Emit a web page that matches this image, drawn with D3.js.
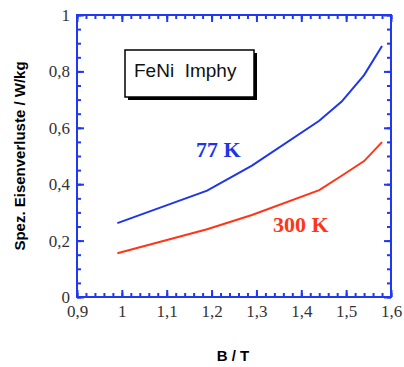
<!DOCTYPE html>
<html lang="de">
<meta charset="utf-8">
<script src="https://d3js.org/d3.v7.min.js"></script>
<style>
  body { margin: 0; background: #fff; }
  .tick text { font: 17px "Liberation Serif", "Times New Roman", serif; fill: #333; }
</style>
<svg id="base" width="404" height="367"></svg>

<script>
    // B in Tesla
    var bValues = [0.99, 1.19, 1.29, 1.44, 1.49, 1.54, 1.58];
    var loss77 = [0.262, 0.377, 0.466, 0.625, 0.693, 0.787, 0.890];
    var loss300 = [0.155, 0.240, 0.291, 0.379, 0.430, 0.482, 0.549];
    var xTicks = [0.9, 1.0, 1.1, 1.2, 1.3, 1.4, 1.5, 1.6];
    var yTicks = [0, 0.2, 0.4, 0.6, 0.8, 1];

    var plotL = 77, plotT = 15, plotR = 391, plotB = 297;
    var axisColor = "#2038f0";

    var svg = d3.select("#base");

    var x = d3.scaleLinear().domain([0.9, 1.6]).range([plotL, plotR]);
    var y = d3.scaleLinear().domain([0, 1]).range([plotB, plotT]);

    var fmt = function (d) { return String(+d.toFixed(1)).replace(".", ","); };

    var xMinor = d3.range(0.9, 1.6001, 0.02);
    var yMinor = d3.range(0, 1.0001, 0.05);

    // inward ticks on all four sides
    function ticks(axis, vals, len, transform) {
        svg.append("g")
            .attr("transform", transform)
            .call(axis.tickValues(vals).tickSize(len).tickFormat(""))
            .call(g => g.select(".domain").remove());
    }
    ticks(d3.axisTop(x), xMinor, 4, "translate(0," + plotB + ")");
    ticks(d3.axisBottom(x), xMinor, 4, "translate(0," + plotT + ")");
    ticks(d3.axisRight(y), yMinor, 4, "translate(" + plotL + ",0)");
    ticks(d3.axisLeft(y), yMinor, 4, "translate(" + plotR + ",0)");
    ticks(d3.axisTop(x), xTicks, 7, "translate(0," + plotB + ")");
    ticks(d3.axisBottom(x), xTicks, 7, "translate(0," + plotT + ")");
    ticks(d3.axisRight(y), yTicks, 7, "translate(" + plotL + ",0)");
    ticks(d3.axisLeft(y), yTicks, 7, "translate(" + plotR + ",0)");

    // labels
    svg.append("g")
        .attr("transform", "translate(0," + plotB + ")")
        .call(d3.axisBottom(x).tickValues(xTicks).tickSize(0).tickPadding(8).tickFormat(fmt))
        .call(g => g.select(".domain").remove());
    svg.append("g")
        .attr("transform", "translate(" + plotL + ",0)")
        .call(d3.axisLeft(y).tickValues(yTicks).tickSize(0).tickPadding(7).tickFormat(fmt))
        .call(g => g.select(".domain").remove());

    svg.selectAll(".tick line").attr("stroke", axisColor).attr("stroke-width", 2);

    svg.append("rect")
        .attr("x", plotL).attr("y", plotT)
        .attr("width", plotR - plotL).attr("height", plotB - plotT)
        .attr("fill", "none")
        .attr("stroke", axisColor)
        .attr("stroke-width", 2);

    var line = d3.line()
        .x(function (d, i) { return x(bValues[i]); })
        .y(function (d) { return y(d); });

    svg.append("path").datum(loss77)
        .attr("d", line)
        .attr("fill", "none")
        .attr("stroke", "#1f35e8")
        .attr("stroke-width", 2);

    svg.append("path").datum(loss300)
        .attr("d", line)
        .attr("fill", "none")
        .attr("stroke", "#ff3518")
        .attr("stroke-width", 2);

    svg.append("text")
        .attr("x", 196).attr("y", 157)
        .style("font", "bold 22px 'Liberation Serif', serif")
        .attr("fill", "#1f35e8")
        .text("77 K");

    svg.append("text")
        .attr("x", 273).attr("y", 232)
        .style("font", "bold 22px 'Liberation Serif', serif")
        .attr("fill", "#ff3518")
        .text("300 K");

    // legend box with shadow
    svg.append("rect")
        .attr("x", 128).attr("y", 53)
        .attr("width", 129).attr("height", 47)
        .attr("fill", "#000");
    svg.append("rect")
        .attr("x", 125).attr("y", 50)
        .attr("width", 129).attr("height", 47)
        .attr("fill", "#fff")
        .attr("stroke", "#000")
        .attr("stroke-width", 1.5);
    svg.append("text")
        .attr("x", 134).attr("y", 77)
        .style("font", "19px 'Liberation Sans', Arial, sans-serif")
        .style("white-space", "pre")
        .attr("fill", "#111")
        .text("FeNi  Imphy");

    svg.append("text")
        .attr("x", 233).attr("y", 361)
        .attr("text-anchor", "middle")
        .style("font", "bold 15px 'Liberation Sans', Arial, sans-serif")
        .text("B / T");

    svg.append("text")
        .attr("transform", "translate(25,156) rotate(-90)")
        .attr("text-anchor", "middle")
        .style("font", "bold 15px 'Liberation Sans', Arial, sans-serif")
        .text("Spez. Eisenverluste / W/kg");
</script>
</html>
